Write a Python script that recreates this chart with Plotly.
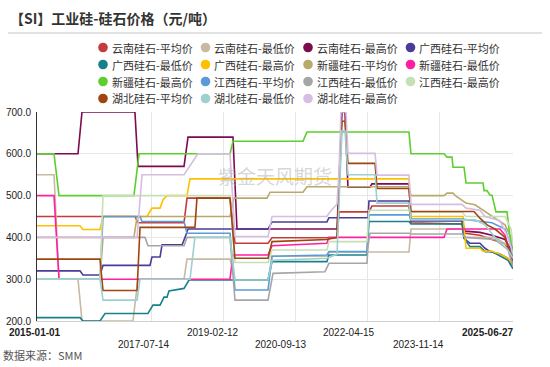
import plotly.graph_objects as go

# ---------------- data ----------------
yn_avg_d = ["2015-01-01","2017-02-27","2017-03-24","2018-03-29","2018-04-22","2019-04-03","2019-05-13","2020-02-03","2020-03-06","2021-08-11","2021-08-27","2022-04-25","2022-05-19","2023-03-13","2023-03-29","2024-05-13","2024-06-06","2024-10-04","2025-01-09","2025-04-24","2025-06-11","2025-06-27"]
yn_avg_v = [450,450,435,435,494,494,386,386,399,399,461,461,475,475,435,432,410,405,395,385,360,335]

yn_min_d = ["2015-01-01","2015-05-18","2015-06-27","2015-11-27","2015-12-29","2017-02-11","2017-03-24","2018-03-29","2018-04-22","2019-04-03","2019-05-13","2020-02-03","2020-03-06","2021-05-22","2021-06-07","2023-03-13","2023-03-29","2024-05-13","2024-06-06","2025-02-02","2025-05-18","2025-06-27"]
yn_min_v = [550,550,300,300,200,200,300,300,348,348,298,298,355,355,365,365,420,420,400,400,380,340]

yn_max_d = ["2015-01-01","2015-11-27","2015-12-29","2017-02-27","2017-03-24","2018-03-29","2018-04-30","2019-04-27","2019-05-29","2021-08-11","2021-09-20","2021-10-14","2021-11-07","2022-05-03","2022-05-19","2023-03-13","2023-03-29","2024-05-13","2024-06-06","2024-10-04","2025-01-09","2025-04-24","2025-06-11","2025-06-27"]
yn_max_v = [600,600,700,700,570,570,640,640,420,420,700,700,520,520,528,528,440,440,415,412,405,395,370,345]

gx_avg_d = ["2015-01-01","2015-12-13","2016-01-06","2016-05-22","2016-06-15","2017-06-28","2017-07-14","2017-09-17","2017-10-03","2018-03-13","2018-04-06","2018-04-30","2020-02-03","2020-03-06","2021-05-22","2021-06-07","2022-04-17","2022-04-25","2023-03-13","2023-03-29","2024-05-13","2024-05-29","2024-07-16","2024-10-04","2024-11-14","2024-12-24","2025-03-14","2025-05-18","2025-06-27"]
gx_avg_v = [320,320,310,310,333,333,353,353,382,382,400,420,420,437,437,447,447,487,487,440,440,398,386,386,374,366,360,350,330]

gx_min_d = ["2015-01-01","2015-12-13","2016-01-06","2016-05-22","2016-07-01","2017-06-12","2017-07-22","2017-09-17","2017-10-19","2017-11-12","2017-11-28","2018-03-29","2018-05-08","2020-02-03","2020-03-06","2021-05-22","2021-06-07","2022-04-09","2022-04-25","2023-03-13","2023-03-29","2024-05-13","2024-05-29","2024-07-16","2024-10-04","2024-11-14","2025-01-09","2025-03-14","2025-05-18","2025-06-27"]
gx_min_v = [208,208,200,200,218,218,238,238,257,257,272,278,298,298,342,342,358,358,438,438,432,432,398,378,378,366,366,356,345,325]

gx_max_d = ["2015-01-01","2015-12-13","2016-01-06","2016-05-22","2016-06-15","2017-06-04","2017-07-14","2017-09-17","2017-10-11","2017-11-12","2018-04-22","2018-05-16","2023-03-13","2023-03-29","2024-05-21","2024-06-14","2024-10-04","2024-10-29","2025-01-09","2025-03-14","2025-05-18","2025-06-27"]
gx_max_v = [428,428,419,419,450,450,470,470,490,500,500,540,540,450,450,374,374,367,367,360,350,335]

xj_avg_d = ["2015-01-01","2017-02-19","2017-03-16","2019-04-03","2019-05-05","2020-01-26","2020-02-19","2020-11-10","2020-12-12","2023-03-13","2023-03-29","2023-12-20","2024-01-13","2024-03-01","2024-03-20","2024-06-14","2024-08-25","2024-11-14","2025-02-02","2025-04-24","2025-06-11","2025-06-27"]
xj_avg_v = [400,400,450,450,494,494,508,508,521,521,500,500,506,506,500,482,478,462,446,430,400,360]

xj_min_d = ["2015-01-01","2015-05-18","2015-06-27","2019-04-03","2019-04-27","2020-02-03","2020-03-06","2021-05-22","2021-06-07","2023-12-20","2024-01-13","2025-03-14","2025-04-24","2025-05-18","2025-06-27"]
xj_min_v = [500,500,300,300,358,358,380,386,400,400,420,420,405,380,330]

xj_max_d = ["2015-01-01","2015-05-18","2015-06-27","2017-02-19","2017-04-01","2019-04-03","2019-04-27","2020-11-10","2020-12-12","2023-03-13","2023-03-29","2023-12-20","2024-01-13","2024-02-22","2024-03-01","2024-05-29","2024-06-14","2024-10-29","2024-11-06","2024-11-30","2024-12-24","2025-01-09","2025-02-10","2025-05-10","2025-06-03","2025-06-27"]
xj_max_v = [600,600,500,500,600,600,630,630,652,652,600,600,592,592,568,568,530,530,512,512,501,501,461,461,400,370]

jx_avg_d = ["2015-01-01","2016-05-22","2016-06-15","2017-04-09","2017-04-25","2018-03-29","2018-04-22","2019-04-03","2019-05-13","2020-02-03","2020-03-06","2021-05-22","2021-06-07","2022-04-09","2022-04-25","2023-03-13","2023-03-29","2024-05-13","2024-08-25","2025-01-09","2025-04-24","2025-06-11","2025-06-27"]
jx_avg_v = [300,300,450,450,438,438,410,410,274,274,355,358,366,366,454,454,444,444,440,435,420,380,340]

jx_min_d = ["2015-01-01","2016-05-22","2016-06-15","2017-05-19","2017-06-12","2018-03-29","2018-04-22","2019-04-03","2019-05-13","2020-02-03","2020-03-14","2021-05-06","2021-06-07","2022-04-09","2022-04-17","2022-05-03","2023-03-13","2023-03-29","2024-05-13","2024-06-06","2025-02-02","2025-05-18","2025-06-27"]
jx_min_v = [300,300,400,400,380,380,400,400,250,250,314,318,338,338,378,410,410,408,408,400,395,370,330]

jx_max_d = ["2015-01-01","2016-05-22","2016-06-15","2019-04-03","2019-05-13","2020-02-03","2020-03-06","2021-05-22","2021-06-07","2022-04-09","2022-04-25","2023-03-13","2023-03-29","2024-05-13","2024-06-14","2025-04-24","2025-06-11","2025-06-27"]
jx_max_v = [300,300,500,500,340,340,370,370,390,390,465,465,460,460,450,450,420,380]

hb_avg_d = ["2015-01-01","2016-05-22","2016-06-15","2017-03-16","2017-04-09","2018-06-25","2018-07-11","2019-04-03","2019-05-13","2020-02-03","2020-03-06","2021-05-22","2021-08-11","2021-09-20","2021-10-14","2021-11-07","2022-06-13","2022-06-29","2023-03-13","2023-03-29","2024-08-17","2024-10-04","2024-11-30","2025-02-02","2025-04-24","2025-06-27"]
hb_avg_v = [348,348,273,273,424,424,494,494,350,350,390,395,400,678,678,577,577,517,517,462,462,446,430,420,400,345]

hb_min_d = ["2015-01-01","2016-05-22","2016-06-15","2017-03-16","2017-04-09","2018-05-16","2018-06-25","2019-04-03","2019-05-13","2020-02-03","2020-03-06","2021-05-22","2021-08-11","2021-09-20","2021-10-14","2021-11-07","2022-06-13","2022-06-29","2023-03-13","2023-03-29","2024-08-25","2024-11-14","2025-02-02","2025-05-18","2025-06-27"]
hb_min_v = [300,300,250,250,300,300,400,400,298,298,345,350,360,655,655,550,550,482,482,442,442,430,400,370,350]

hb_max_d = ["2015-01-01","2017-03-16","2017-04-25","2018-03-29","2018-07-19","2019-04-03","2019-05-13","2020-02-03","2020-03-06","2021-05-22","2021-06-07","2021-08-11","2021-08-27","2021-09-12","2021-10-22","2021-11-07","2022-06-13","2022-06-29","2023-03-13","2023-03-29","2024-05-13","2024-06-14","2024-10-04","2024-11-14","2025-03-14","2025-05-18","2025-06-27"]
hb_max_v = [400,400,550,550,600,600,402,402,450,450,458,480,560,700,700,601,601,549,549,479,479,470,465,450,440,400,360]

series_names = ["云南硅石-平均价","云南硅石-最低价","云南硅石-最高价","广西硅石-平均价",
                "广西硅石-最低价","广西硅石-最高价","新疆硅石-平均价","新疆硅石-最低价",
                "新疆硅石-最高价","江西硅石-平均价","江西硅石-最低价","江西硅石-最高价",
                "湖北硅石-平均价","湖北硅石-最低价","湖北硅石-最高价"]
series_dates = [yn_avg_d, yn_min_d, yn_max_d, gx_avg_d, gx_min_d, gx_max_d, xj_avg_d, xj_min_d,
                xj_max_d, jx_avg_d, jx_min_d, jx_max_d, hb_avg_d, hb_min_d, hb_max_d]
series_vals = [yn_avg_v, yn_min_v, yn_max_v, gx_avg_v, gx_min_v, gx_max_v, xj_avg_v, xj_min_v,
               xj_max_v, jx_avg_v, jx_min_v, jx_max_v, hb_avg_v, hb_min_v, hb_max_v]
series_colors = ["#c53a3a","#c9b9a1","#7e0a50","#4b3b99",
                 "#18808b","#ffc000","#b9aa6b","#ff20a2",
                 "#5ccf2e","#5b9bd5","#a6a6a6","#c5e0b4",
                 "#a0450f","#9ed0cf","#d6bde1"]

tick_dates = ["2015-01-01","2017-07-14","2019-02-12","2020-09-13","2022-04-15","2023-11-14","2025-06-27"]
tick_labels = ["<b>2015-01-01</b>","2017-07-14","2019-02-12","2020-09-13","2022-04-15","2023-11-14","<b>2025-06-27</b>"]

title_text = "【SI】工业硅-硅石价格（元/吨）"
source_text = "数据来源：SMM"
watermark_text = "紫金天风期货"

# ---------------- layout geometry (pixels) ----------------
W, H = 550, 367
L, R, T, B = 37, 513, 112, 321

def px(xp):
    return (xp - L) / (R - L)

def py(yp):
    return (B - yp) / (B - T)

CJK = "Noto Sans CJK SC, Noto Sans, sans-serif"
LAT = "Liberation Sans, Arial, sans-serif"

fig = go.Figure()
for name, d, v, c in zip(series_names, series_dates, series_vals, series_colors):
    fig.add_trace(go.Scatter(x=d, y=v, mode="lines", name=name,
                             line=dict(color=c, width=1.6), showlegend=False))

annotations = []
shapes = []

# title + rule
annotations.append(dict(text=f"<b>{title_text}</b>", x=px(8), y=py(18), xref="paper", yref="paper",
                        xanchor="left", yanchor="middle", showarrow=False,
                        font=dict(family=CJK, size=14, color="#333333")))
shapes.append(dict(type="line", xref="paper", yref="paper", x0=px(8), x1=px(542), y0=py(33), y1=py(33),
                   line=dict(color="#c4c4c4", width=1)))

# legend (4 columns)
col_x = [103, 205.5, 308, 410.5]
row_y = [47.5, 64.5, 81.5, 98.5]
for i, (name, c) in enumerate(zip(series_names, series_colors)):
    cx = col_x[i % 4]
    cy = row_y[i // 4]
    shapes.append(dict(type="circle", xref="paper", yref="paper", xsizemode="pixel", ysizemode="pixel",
                       xanchor=px(cx), yanchor=py(cy), x0=-4.8, x1=4.8, y0=-4.8, y1=4.8,
                       fillcolor=c, line=dict(width=0)))
    annotations.append(dict(text=name, x=px(cx + 6.5), y=py(cy), xref="paper", yref="paper",
                            xanchor="left", yanchor="middle", showarrow=False,
                            font=dict(family=CJK, size=11, color="#333333")))

# x tick labels (staggered)
label_cx = [35, 144, 213, 281, 349, 418, 488]
for j, (lab, cx) in enumerate(zip(tick_labels, label_cx)):
    cy = 332 if j % 2 == 0 else 344
    annotations.append(dict(text=lab, x=px(cx), y=py(cy), xref="paper", yref="paper",
                            xanchor="center", yanchor="middle", showarrow=False,
                            font=dict(family=LAT, size=10, color="#222222")))

# watermark
annotations.append(dict(text=watermark_text, x=px(275), y=py(175), xref="paper", yref="paper",
                        xanchor="center", yanchor="middle", showarrow=False,
                        font=dict(family=CJK, size=19, color="rgba(175,175,175,0.5)")))
# source
annotations.append(dict(text=source_text, x=px(1), y=py(355), xref="paper", yref="paper",
                        xanchor="left", yanchor="middle", showarrow=False,
                        font=dict(family=CJK, size=11, color="#555555")))

fig.update_layout(
    width=W, height=H,
    margin=dict(l=L, r=W - R, t=T, b=H - B, pad=0),
    paper_bgcolor="white", plot_bgcolor="white",
    showlegend=False,
    annotations=annotations, shapes=shapes,
    font=dict(family=LAT, size=11, color="#333333"),
)
fig.update_xaxes(type="date", range=[tick_dates[0], tick_dates[-1]], tickvals=tick_dates,
                 showticklabels=False, showgrid=True, gridcolor="#e6e6e6", gridwidth=1,
                 showline=True, linecolor="#d0d0d0", linewidth=1, zeroline=False, ticks="",
                 automargin=False)
fig.update_yaxes(range=[200, 700], dtick=100, tick0=200, tickformat=".1f", showgrid=True,
                 gridcolor="#e6e6e6", gridwidth=1, showline=True, linecolor="#333333", linewidth=1,
                 zeroline=False, ticks="", ticklabelstandoff=3, automargin=False,
                 tickfont=dict(family=LAT, size=10, color="#222222"))

fig.write_html("out.html", config={"displayModeBar": False},
               post_script="document.body.style.margin='0';document.body.style.padding='0';document.body.style.overflow='hidden';")
